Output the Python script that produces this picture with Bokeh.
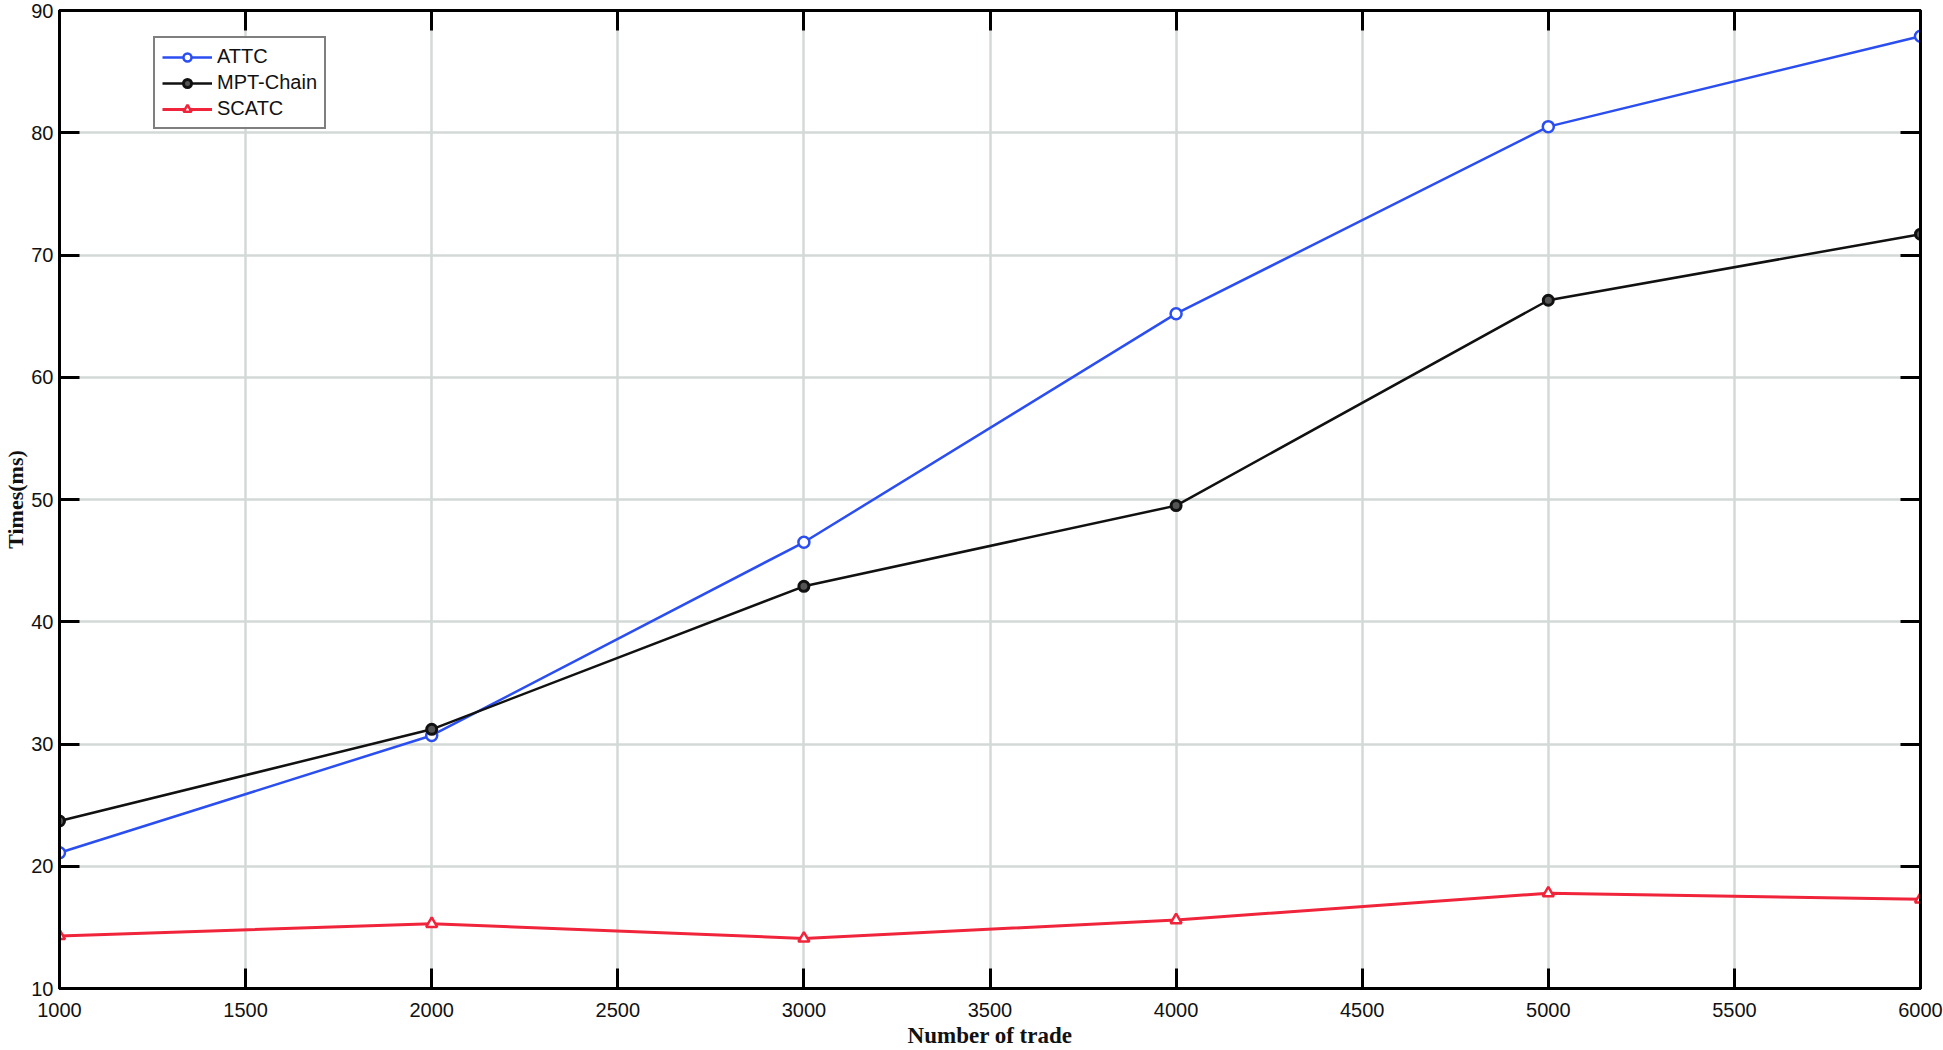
from bokeh.plotting import figure
from bokeh.models import LinearAxis, SingleIntervalTicker, Legend, LegendItem, Range1d
from bokeh.embed import file_html
from bokeh.resources import INLINE

trades = [1000, 2000, 3000, 4000, 5000, 6000]
attc = [21.1, 30.7, 46.5, 65.2, 80.5, 87.9]
mpt_chain = [23.7, 31.2, 42.9, 49.5, 66.3, 71.7]
scatc = [14.3, 15.3, 14.1, 15.6, 17.8, 17.3]
series_names = ["ATTC", "MPT-Chain", "SCATC"]
x_title = "Number of trade"
y_title = "Times(ms)"

p = figure(width=1943, height=1050, output_backend="svg", toolbar_location=None,
           x_range=Range1d(1000, 6000), y_range=Range1d(10, 90),
           min_border_left=58, min_border_right=23, min_border_top=10, min_border_bottom=60)
p.background_fill_color = "white"
p.border_fill_color = "white"
p.outline_line_color = "black"
p.outline_line_width = 3

xt = SingleIntervalTicker(interval=500)
yt = SingleIntervalTicker(interval=10)
p.xaxis.ticker = xt
p.yaxis.ticker = yt
p.xgrid.ticker = xt
p.ygrid.ticker = yt
for g in (p.xgrid, p.ygrid):
    g.grid_line_color = "#d3d9d7"
    g.grid_line_width = 2.5

def style_axis(ax, labels=True):
    ax.axis_line_color = "black"
    ax.axis_line_width = 3
    ax.major_tick_in = 20
    ax.major_tick_out = 0
    ax.major_tick_line_width = 3
    ax.major_tick_line_color = "black"
    ax.minor_tick_line_color = None
    if labels:
        ax.major_label_text_font = "Liberation Sans"
        ax.major_label_text_font_size = "20px"
        ax.major_label_text_color = "#111111"
    else:
        ax.major_label_text_color = None
        ax.major_label_text_font_size = "1px"
        ax.major_label_standoff = 0

xa = p.xaxis[0]
ya = p.yaxis[0]
style_axis(xa)
style_axis(ya)
xa.major_label_standoff = 10
ya.major_label_standoff = 2
xa.axis_label = x_title
ya.axis_label = y_title
for a in (xa, ya):
    a.axis_label_text_font = "Liberation Serif"
    a.axis_label_text_font_style = "bold"
    a.axis_label_text_color = "#111111"
xa.axis_label_text_font_size = "23px"
ya.axis_label_text_font_size = "22px"
xa.axis_label_standoff = 3
ya.axis_label_standoff = 0

ra = LinearAxis(ticker=yt)
style_axis(ra, labels=False)
p.add_layout(ra, "right")
ta = LinearAxis(ticker=xt)
style_axis(ta, labels=False)
p.add_layout(ta, "above")

blue = "#2a4ef0"
red = "#f0243a"
l1 = p.line(trades, attc, line_color=blue, line_width=2.5)
m1 = p.scatter(trades, attc, marker="circle", size=11, line_color=blue, line_width=2.5, fill_color="white")
l2 = p.line(trades, mpt_chain, line_color="#111111", line_width=2.5)
m2 = p.scatter(trades, mpt_chain, marker="circle", size=10, line_color="#111111", line_width=3, fill_color="#555555")
l3 = p.line(trades, scatc, line_color=red, line_width=3)
m3 = p.scatter(trades, scatc, marker="triangle", size=11, line_color=red, line_width=2.5, fill_color="white")

legend = Legend(items=[LegendItem(label=series_names[0], renderers=[l1, m1]),
                       LegendItem(label=series_names[1], renderers=[l2, m2]),
                       LegendItem(label=series_names[2], renderers=[l3, m3])],
                location=(94, 859))
legend.border_line_color = "black"
legend.border_line_width = 2.5
legend.label_text_font = "Liberation Sans"
legend.label_text_font_size = "20px"
legend.label_text_color = "#111111"
legend.glyph_width = 50
legend.glyph_height = 20
legend.spacing = 3
legend.padding = 7
legend.label_standoff = 5
legend.margin = 0
p.add_layout(legend, "center")

open("out.html", "w").write(file_html(p, INLINE))
